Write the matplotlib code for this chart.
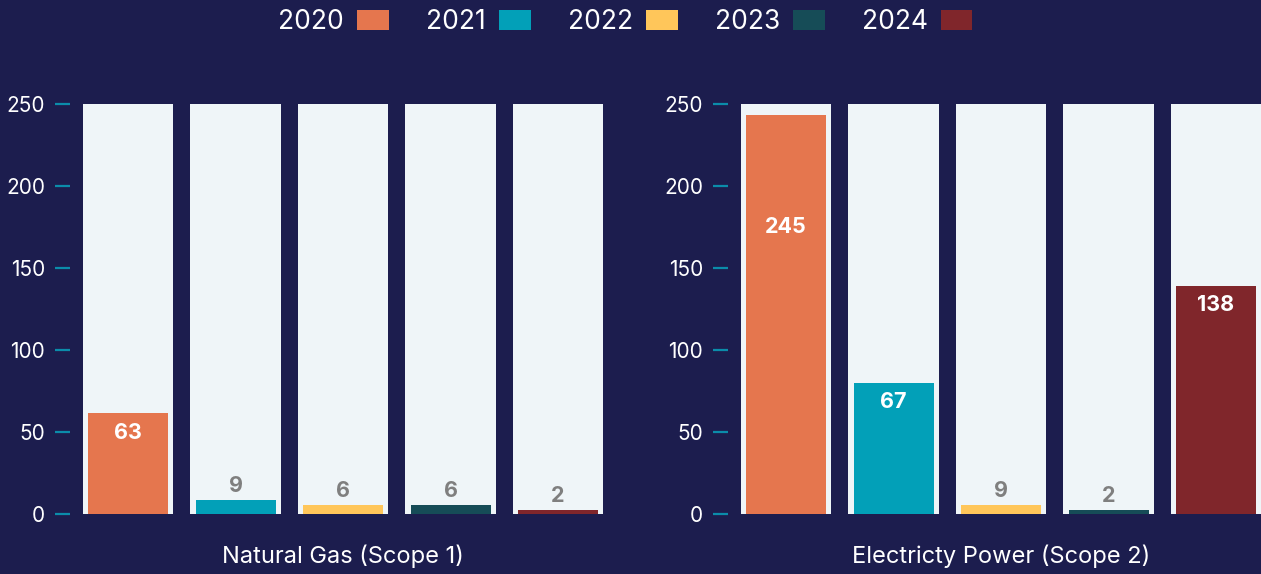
import matplotlib
matplotlib.use('Agg')
import matplotlib.pyplot as plt
from matplotlib.patches import Patch

# ---------------------------------------------------------------------------
# Data
# ---------------------------------------------------------------------------
years = ["2020", "2021", "2022", "2023", "2024"]
panel_titles = ["Natural Gas (Scope 1)", "Electricty Power (Scope 2)"]

# bar heights as drawn, and the number printed on each bar
gas_heights = [61.5, 8.5, 5.5, 5.5, 2.5]
gas_labels = ["63", "9", "6", "6", "2"]
power_heights = [243, 80, 5.5, 2.5, 139]
power_labels = ["245", "67", "9", "2", "138"]

yticks = [0, 50, 100, 150, 200, 250]
y_max = 250

# ---------------------------------------------------------------------------
# Style
# ---------------------------------------------------------------------------
BG = '#1c1d4e'
TRACK = '#eff5f8'
TICK = '#0b8caa'
colors = ['#e5764e', '#02a0b8', '#ffc65a', '#164c57', '#80262b']

plt.rcParams['font.family'] = ['Inter', 'DejaVu Sans']

W, H = 1261, 574
fig = plt.figure(figsize=(W / 100, H / 100), dpi=100)
fig.patch.set_facecolor(BG)

bottom = (H - 514) / H
height = (514 - 104) / H
step = 107.5  # pixels per category


def draw_panel(left_px, heights, labels, title):
    x_lo = -0.54
    x_hi = 4.5
    ax = fig.add_axes([left_px / W, bottom, (x_hi - x_lo) * step / W, height])
    ax.set_facecolor(BG)
    xs = list(range(len(heights)))
    ax.bar(xs, [y_max] * len(xs), width=0.84, color=TRACK, zorder=1)
    ax.bar(xs, heights, width=0.745, color=colors, zorder=2)

    for x, h, lab in zip(xs, heights, labels):
        if h > 40:
            off = -14
            if h > 0.9 * y_max:   # label pushed down on the tallest bar
                off = -80
            ax.annotate(lab, (x, h), xytext=(0, off), textcoords='offset points',
                        ha='center', va='center', color='white',
                        fontsize=15.5, fontweight='bold', zorder=3)
        else:
            ax.annotate(lab, (x, h), xytext=(0, 10), textcoords='offset points',
                        ha='center', va='center', color='#7f7f7f',
                        fontsize=15.5, fontweight='bold', zorder=3)

    ax.set_xlim(x_lo, x_hi)
    ax.set_ylim(0, y_max)
    ax.set_xticks([])
    ax.set_yticks(yticks)
    ax.tick_params(axis='y', colors=TICK, length=11, width=1.6, pad=7,
                   labelcolor='white', labelsize=15)
    for spine in ax.spines.values():
        spine.set_visible(False)
    ax.text(2, -0.1024, title, transform=ax.get_xaxis_transform(),
            ha='center', va='center', color='white', fontsize=17)
    return ax


draw_panel(70, gas_heights, gas_labels, panel_titles[0])
draw_panel(728, power_heights, power_labels, panel_titles[1])

# ---------------------------------------------------------------------------
# Legend
# ---------------------------------------------------------------------------
handles = [Patch(facecolor=c, edgecolor='none', label=y) for c, y in zip(colors, years)]
leg = fig.legend(handles=handles, loc='center', bbox_to_anchor=(0.496, 1 - 22 / H),
                 ncol=5, frameon=False, markerfirst=False, fontsize=19,
                 handlelength=1.2, handleheight=0.8, handletextpad=0.5,
                 columnspacing=1.4)
for t in leg.get_texts():
    t.set_color('white')

fig.savefig('out.png', facecolor=BG)
